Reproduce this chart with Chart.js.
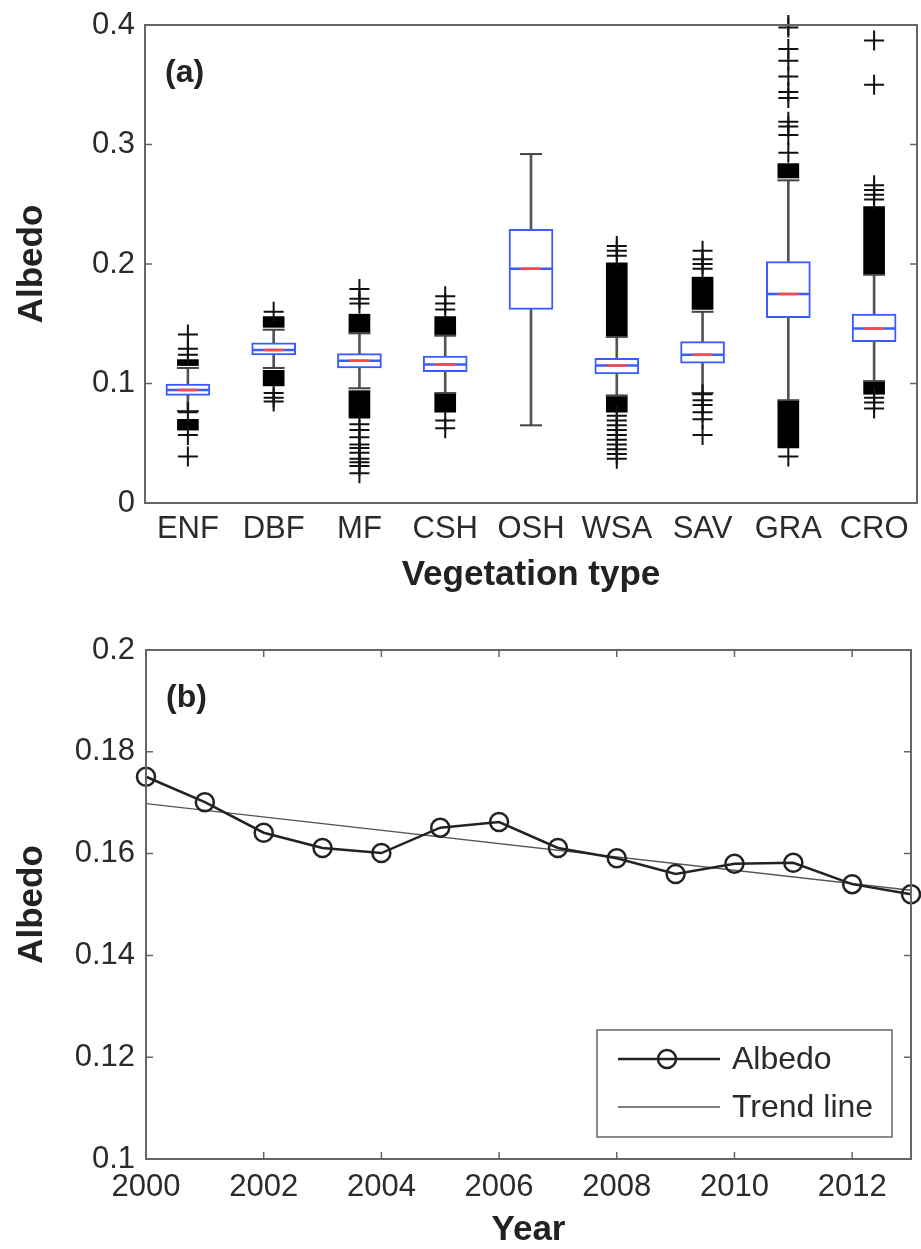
<!DOCTYPE html>
<html>
<head>
<meta charset="utf-8">
<script src="https://cdn.jsdelivr.net/npm/chart.js@4.4.1/dist/chart.umd.min.js"></script>
<style>
  body { margin: 0; background: #fff; }
  #wrap { position: relative; width: 921px; height: 1249px; }
  #chartA { position: absolute; left: 0; top: 0; }
  #chartB { position: absolute; left: 0; top: 600px; }
</style>
</head>
<body>
<div id="wrap">
  <canvas id="chartA" width="921" height="600"></canvas>
  <canvas id="chartB" width="921" height="649"></canvas>
</div>
<script>
// ---- (a) albedo per vegetation type, box plot values ----
const vegTypes = ['ENF', 'DBF', 'MF', 'CSH', 'OSH', 'WSA', 'SAV', 'GRA', 'CRO'];
const q1 = [0.090, 0.124, 0.113, 0.110, 0.162, 0.108, 0.117, 0.155, 0.135];
const medians = [0.0945, 0.128, 0.119, 0.116, 0.196, 0.115, 0.124, 0.175, 0.146];
const q3 = [0.0995, 0.134, 0.125, 0.123, 0.229, 0.121, 0.135, 0.202, 0.158];
const whiskerLow = [0.077, 0.113, 0.096, 0.092, 0.065, 0.090, 0.092, 0.086, 0.102];
const whiskerHigh = [0.113, 0.145, 0.142, 0.140, 0.292, 0.139, 0.160, 0.270, 0.191];

// outliers so dense they merge into solid blocks: [from, to]
const denseHigh = [[0.115, 0.120], [0.147, 0.156], [0.143, 0.158], [0.141, 0.156], null,
                   [0.140, 0.201], [0.162, 0.189], [0.272, 0.284], [0.192, 0.248]];
const denseLow = [[0.061, 0.070], [0.098, 0.111], [0.071, 0.094], [0.076, 0.091], null,
                  [0.076, 0.089], null, [0.046, 0.085], [0.091, 0.101]];

// single '+' outliers
const sparseOutliers = {
  ENF: [0.124, 0.129, 0.141, 0.076, 0.057, 0.039],
  DBF: [0.160, 0.092, 0.088, 0.085],
  MF:  [0.167, 0.171, 0.179, 0.066, 0.061, 0.055, 0.049, 0.046, 0.042, 0.037, 0.034, 0.031, 0.025],
  CSH: [0.162, 0.167, 0.173, 0.069, 0.0625],
  OSH: [],
  WSA: [0.207, 0.211, 0.215, 0.073, 0.069, 0.065, 0.061, 0.057, 0.053, 0.049, 0.045, 0.041, 0.037],
  SAV: [0.196, 0.200, 0.204, 0.211, 0.091, 0.086, 0.082, 0.076, 0.070, 0.057],
  GRA: [0.293, 0.308, 0.315, 0.319, 0.339, 0.344, 0.357, 0.370, 0.380, 0.398, 0.400, 0.039],
  CRO: [0.254, 0.258, 0.262, 0.266, 0.350, 0.387, 0.088, 0.084, 0.079]
};

const yTicksA = [0, 0.1, 0.2, 0.3, 0.4];
const yTickLabelsA = ['0', '0.1', '0.2', '0.3', '0.4'];

// ---- (b) yearly albedo ----
const years = [2000, 2001, 2002, 2003, 2004, 2005, 2006, 2007, 2008, 2009, 2010, 2011, 2012, 2013];
const albedo = [0.1751, 0.1701, 0.1641, 0.1611, 0.1601, 0.1651, 0.1662, 0.1611, 0.1591, 0.1560, 0.1580, 0.1582, 0.1540, 0.1520];
const trendYears = [2000, 2013];
const trendValues = [0.1698, 0.1528];

const xTicksB = [2000, 2002, 2004, 2006, 2008, 2010, 2012];
const xTickLabelsB = ['2000', '2002', '2004', '2006', '2008', '2010', '2012'];
const yTicksB = [0.1, 0.12, 0.14, 0.16, 0.18, 0.2];
const yTickLabelsB = ['0.1', '0.12', '0.14', '0.16', '0.18', '0.2'];

const FONT = '"Liberation Sans", Arial, Helvetica, sans-serif';
const tickFont = { family: FONT, size: 31 };
const titleFont = { family: FONT, size: 35, weight: 'bold', lineHeight: 1 };
const BLUE = '#3a5cff';
const TEXT = '#2b2b2b';

// matlab-like frame, inward ticks and panel letter
const frameTicks = {
  id: 'frameTicks',
  afterDatasetsDraw(chart, args, opts) {
    const { ctx, chartArea: a, scales } = chart;
    ctx.save();
    ctx.strokeStyle = '#666';
    ctx.lineWidth = 2;
    ctx.strokeRect(a.left, a.top, a.right - a.left, a.bottom - a.top);
    ctx.lineWidth = 1.5;
    ctx.beginPath();
    (opts.yTicks || []).forEach(v => {
      const y = scales.y.getPixelForValue(v);
      ctx.moveTo(a.left, y); ctx.lineTo(a.left + 7, y);
      ctx.moveTo(a.right, y); ctx.lineTo(a.right - 7, y);
    });
    (opts.xTicks || []).forEach(v => {
      const x = scales.x.getPixelForValue(v);
      ctx.moveTo(x, a.bottom); ctx.lineTo(x, a.bottom - 7);
      ctx.moveTo(x, a.top); ctx.lineTo(x, a.top + 7);
    });
    ctx.stroke();
    ctx.fillStyle = '#222';
    ctx.font = 'bold 32px ' + FONT;
    ctx.textBaseline = 'middle';
    ctx.fillText(opts.letter, a.left + 20, a.top + 48);
    ctx.restore();
  }
};

// pin axis size and drop the label overflow padding chart.js adds
function fixedScale(size, horizontal) {
  return function (s) {
    if (horizontal) s.height = size; else s.width = size;
    s.paddingLeft = 0; s.paddingRight = 0;
    s.paddingTop = 0; s.paddingBottom = 0;
  };
}

// ---------------- chart (a) ----------------
const outlierPoints = [];
vegTypes.forEach(c => sparseOutliers[c].forEach(v => outlierPoints.push({ x: c, y: v })));

const capPoints = [];
vegTypes.forEach((c, i) => {
  capPoints.push({ x: c, y: whiskerLow[i] });
  capPoints.push({ x: c, y: whiskerHigh[i] });
});

new Chart('chartA', {
  type: 'bar',
  data: {
    labels: vegTypes,
    datasets: [
      {
        type: 'line', label: 'median', data: medians, showLine: false, order: 0,
        pointStyle: 'line', pointRadius: 10, pointBorderWidth: 2.5, pointBorderColor: '#ff4545'
      },
      {
        type: 'line', label: 'median line', data: medians, showLine: false, order: 1,
        pointStyle: 'line', pointRadius: 21, pointBorderWidth: 2.5, pointBorderColor: BLUE
      },
      {
        label: 'box', data: q3.map((v, i) => [q1[i], v]), order: 2, grouped: false,
        backgroundColor: '#fff', borderColor: BLUE, borderWidth: 2, borderSkipped: false, barThickness: 44
      },
      {
        type: 'line', label: 'outliers', data: outlierPoints, showLine: false, order: 3, clip: false,
        pointStyle: 'cross', pointRadius: 10, pointBorderWidth: 2, pointBorderColor: '#111'
      },
      {
        label: 'dense high', data: denseHigh, order: 4, grouped: false,
        backgroundColor: '#000', barThickness: 21
      },
      {
        label: 'dense low', data: denseLow, order: 4, grouped: false,
        backgroundColor: '#000', barThickness: 21
      },
      {
        type: 'line', label: 'caps', data: capPoints, showLine: false, order: 5,
        pointStyle: 'line', pointRadius: 11, pointBorderWidth: 2, pointBorderColor: '#444'
      },
      {
        label: 'whiskers', data: whiskerLow.map((v, i) => [v, whiskerHigh[i]]), order: 6, grouped: false,
        backgroundColor: '#555', barThickness: 2
      }
    ]
  },
  options: {
    responsive: false,
    animation: false,
    events: [],
    layout: { autoPadding: false, padding: { top: 25, right: 4, left: 0, bottom: 0 } },
    plugins: {
      legend: { display: false },
      tooltip: { enabled: false },
      frameTicks: { yTicks: [0.1, 0.2, 0.3], letter: '(a)' }
    },
    scales: {
      x: {
        offset: true,
        grid: { display: false, drawTicks: false },
        border: { display: false },
        ticks: { color: TEXT, font: tickFont, padding: 8, maxRotation: 0, autoSkip: false },
        title: { display: true, text: 'Vegetation type', color: '#222', font: titleFont, padding: { top: 0, bottom: 7 } },
        afterFit: fixedScale(97, true)
      },
      y: {
        min: 0, max: 0.4,
        grid: { display: false, drawTicks: false },
        border: { display: false },
        afterBuildTicks(s) { s.ticks = yTicksA.map(v => ({ value: v })); },
        ticks: { color: TEXT, font: tickFont, padding: 10, callback: (v, i) => yTickLabelsA[i] },
        title: { display: true, text: 'Albedo', color: '#222', font: titleFont, padding: { top: 15, bottom: 0 } },
        afterFit: fixedScale(145, false)
      }
    }
  },
  plugins: [frameTicks]
});

// ---------------- chart (b) ----------------
const legendBox = {
  id: 'legendBox',
  afterDraw(chart) {
    const { ctx, chartArea: a } = chart;
    const ds = chart.data.datasets;
    const x0 = a.right - 314, y0 = a.bottom - 129, w = 295, h = 107;
    ctx.save();
    ctx.fillStyle = '#fff';
    ctx.fillRect(x0, y0, w, h);
    ctx.strokeStyle = '#666';
    ctx.lineWidth = 1.5;
    ctx.strokeRect(x0, y0, w, h);
    const rows = [y0 + 29, y0 + 77];
    ds.forEach((d, i) => {
      const y = rows[i];
      ctx.strokeStyle = d.borderColor;
      ctx.lineWidth = d.borderWidth;
      ctx.beginPath();
      ctx.moveTo(x0 + 21, y); ctx.lineTo(x0 + 123, y);
      ctx.stroke();
      if (d.pointRadius > 0) {
        ctx.lineWidth = d.pointBorderWidth;
        ctx.beginPath();
        ctx.arc(x0 + 70, y, d.pointRadius, 0, Math.PI * 2);
        ctx.stroke();
      }
      ctx.fillStyle = TEXT;
      ctx.font = '32px ' + FONT;
      ctx.textBaseline = 'middle';
      ctx.fillText(d.label, x0 + 135, y + 1);
    });
    ctx.restore();
  }
};

new Chart('chartB', {
  type: 'line',
  data: {
    datasets: [
      {
        label: 'Albedo', data: years.map((y, i) => ({ x: y, y: albedo[i] })), clip: false,
        borderColor: '#222', borderWidth: 2.5, tension: 0,
        pointStyle: 'circle', pointRadius: 9, pointBorderWidth: 2.5,
        pointBorderColor: '#222', pointBackgroundColor: 'rgba(0,0,0,0)'
      },
      {
        label: 'Trend line', data: trendYears.map((y, i) => ({ x: y, y: trendValues[i] })),
        borderColor: '#555', borderWidth: 1.3, pointRadius: 0
      }
    ]
  },
  options: {
    responsive: false,
    animation: false,
    events: [],
    layout: { autoPadding: false, padding: { top: 50, right: 10, left: 0, bottom: 0 } },
    plugins: {
      legend: { display: false },
      tooltip: { enabled: false },
      frameTicks: { yTicks: [0.12, 0.14, 0.16, 0.18], xTicks: [2002, 2004, 2006, 2008, 2010, 2012], letter: '(b)' }
    },
    scales: {
      x: {
        type: 'linear', min: 2000, max: 2013,
        grid: { display: false, drawTicks: false },
        border: { display: false },
        afterBuildTicks(s) { s.ticks = xTicksB.map(v => ({ value: v })); },
        ticks: { color: TEXT, font: tickFont, padding: 10, maxRotation: 0, callback: (v, i) => xTickLabelsB[i] },
        title: { display: true, text: 'Year', color: '#222', font: titleFont, padding: { top: 0, bottom: 1 } },
        afterFit: fixedScale(90, true)
      },
      y: {
        min: 0.1, max: 0.2,
        grid: { display: false, drawTicks: false },
        border: { display: false },
        afterBuildTicks(s) { s.ticks = yTicksB.map(v => ({ value: v })); },
        ticks: { color: TEXT, font: tickFont, padding: 11, callback: (v, i) => yTickLabelsB[i] },
        title: { display: true, text: 'Albedo', color: '#222', font: titleFont, padding: { top: 15, bottom: 0 } },
        afterFit: fixedScale(146, false)
      }
    }
  },
  plugins: [frameTicks, legendBox]
});
</script>
</body>
</html>
